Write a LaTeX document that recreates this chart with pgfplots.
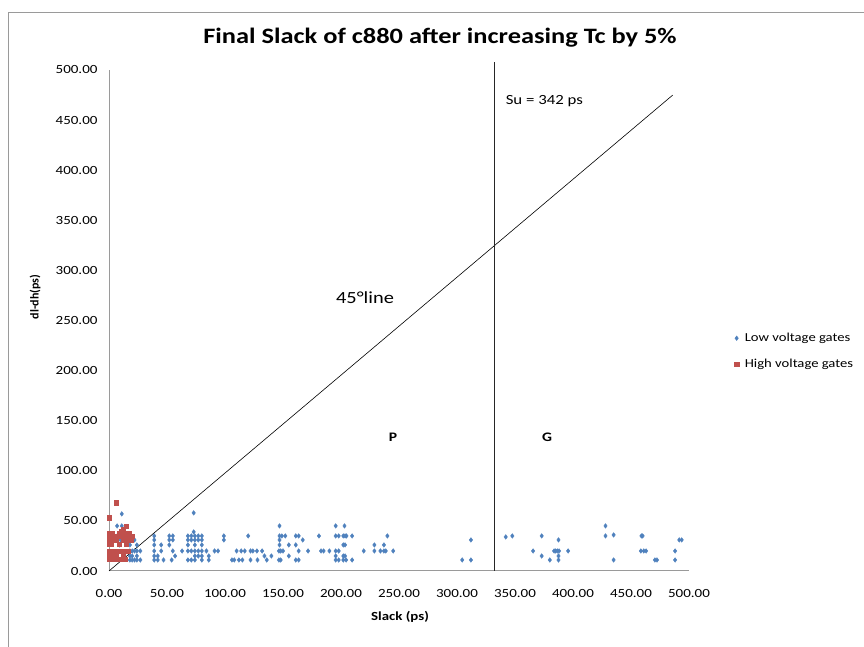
\documentclass[border=0pt]{standalone}
\usepackage{fontspec}
\setmainfont{Carlito}[FakeStretch=1.2]
\newfontfamily\plainfont{Carlito}
\usepackage{pgfplots}
\pgfplotsset{compat=1.18}
\definecolor{lowblue}{HTML}{4F81BD}
\definecolor{highred}{HTML}{C0504D}
\definecolor{axgray}{HTML}{9A9A9A}

\begin{document}
\begin{tikzpicture}[x=1pt,y=1pt]
\useasboundingbox (0,0) rectangle (864,647);
\draw[axgray, line width=0.8pt] (8,0) -- (8,635) -- (864,635);

\begin{axis}[
    at={(109pt,76pt)}, anchor=south west,
    width=580pt, height=501pt, scale only axis,
    xmin=0, xmax=500, ymin=0, ymax=500,
    axis x line*=bottom, axis y line*=left,
    axis line style={axgray, line width=1pt, -},
    xtick={0,50,...,500}, ytick={0,50,...,500},
    major tick length=0pt,
    /pgf/number format/.cd, fixed, fixed zerofill, precision=2, 1000 sep={},
        assume math mode=true,
    /pgfplots/.cd,
    ticklabel style={font=\fontsize{12.5}{14}\selectfont},
    xticklabel style={yshift=-15pt},
    yticklabel style={xshift=-8pt},
    clip=false,
    legend style={at={(axis description cs:1.078,0.479)}, anchor=north west,
        draw=none, fill=none, font=\fontsize{12.2}{14}\selectfont,
        row sep=12pt, inner sep=0pt,
        /tikz/every odd column/.append style={column sep=4pt}},
    legend cell align=left,
    legend image code/.code={\draw[mark repeat=2,mark phase=2,#1]
        plot coordinates {(0pt,0pt) (3pt,0pt) (6pt,0pt)};},
]
% Low voltage gates
\addplot[only marks, mark=diamond*, mark size=2.3pt, draw=lowblue, fill=lowblue] coordinates {
(11,57) (7,45) (11,45) (7,35) (12,35) (10,31) (9,26)
(18,26) (18,20) (18,15) (18,11) (20,20) (20,15) (20,11) (22,31) (22,20) (22,11)
(24,26) (24,20) (24,15) (24,11) (27,20) (27,11)
(39,35) (39,31) (39,26) (39,20) (39,15) (39,11) (42,15) (42,11) (45,26) (45,20)
(47,11) (52,35) (52,31) (52,26) (54,11) (55,35) (55,31) (55,20) (57,15) (63,20)
(68,35) (68,31) (68,26) (68,20) (68,11) (71,35) (71,31) (71,20) (71,11)
(73,39) (73,58) (74,35) (74,31) (74,26) (74,20) (74,15) (74,11)
(77,35) (77,31) (77,20) (77,15) (80,35) (80,31) (80,26) (80,20) (80,15) (80,11)
(84,20) (86,15) (86,11)
(91,20) (94,20) (99,35) (99,31) (106,11) (108,11) (110,20) (112,11) (114,20)
(115,11) (117,20) (120,35) (122,11) (122,20) (124,20)
(127.5,20) (132,20) (128,11) (134,15) (136,11) (140,15)
(147,45) (147,35) (149,35) (152,35) (147,31) (147,26) (146.5,20) (148,20) (150,20)
(146.5,11) (148,11) (155,26) (155,15)
(161,35) (163.5,35) (161,26) (163.5,20) (161,11) (163.5,11) (167,31) (171.6,20)
(181,35) (182.8,20) (185,20) (190,20)
(195.4,45) (203,45) (195.4,35) (198,35) (202,35) (203.5,35) (204.7,35) (202,26)
(203.5,26) (195.4,20) (198,20) (195.4,15) (202,15) (203.5,15) (195.4,11) (198,11)
(202,11) (204.4,11) (209.6,35) (209.6,11)
(219.6,20) (228.8,26) (228.8,20) (234,20) (237,20) (238.6,20) (237,26) (240,35)
(245,20)
(304.5,11) (312,11) (312,31) (342,34) (347.7,35) (365.6,20) (373,35) (373,15)
(380,11) (383.7,20) (385,20) (386.5,20) (388,20) (387.5,31) (387.5,15) (387.5,11)
(395.8,20) (428,45) (428,35) (435,36) (435,11) (459,35) (460,35) (458.5,20)
(461,20) (463,20) (470.6,11) (472.4,11) (488,20) (488,11) (491.6,31) (493.7,31)
};
\addlegendentry{Low voltage gates}

% High voltage gates
\addplot[only marks, mark=square*, mark size=2.2pt, draw=highred, fill=highred] coordinates {
(6,68) (0,53) (15,45) (12,42) (11,40)
(0,38) (3,38) (9,38) (14,38) (17,38)
(0,35) (2,35) (5,35) (8,35) (11,35) (14,35) (17,35) (20,35)
(0,31) (3,31) (6,31) (12,31) (16,31) (19,31)
(0,27) (2,27) (9,27) (15,27)
(0,20) (2,20) (4,20) (6,20) (8,20) (10,20) (12,20) (14,20) (16,20)
(0,16) (3,16) (6,16) (12,16)
(0,12) (2,12) (5,12) (8,12) (11,12) (14,12)
};
\addlegendentry{High voltage gates}

% 45 degree line and Su line
\addplot[black, line width=0.6pt, forget plot] coordinates {(0,0) (486,475)};
\addplot[black!85, line width=1.1pt, forget plot] coordinates {(332,0) (332,508)};

\node[anchor=west, font=\fontsize{14}{16}\selectfont] at (axis cs:339,469) {Su = 342 ps};
\node[font=\fontsize{17}{20}\selectfont] at (axis cs:220.7,273) {45°line};
\node[font=\bfseries\fontsize{13}{15}\selectfont] at (axis cs:244.8,133) {P};
\node[font=\bfseries\fontsize{13}{15}\selectfont] at (axis cs:377.6,133) {G};
\end{axis}

\node[font=\bfseries\fontsize{22}{26}\selectfont] at (440,609)
    {Final Slack of c880 after increasing Tc by 5\%};
\node[font=\bfseries\fontsize{12.4}{14}\selectfont] at (400,30) {Slack (ps)};
\node[rotate=90, font=\plainfont\bfseries\fontsize{12}{14}\selectfont] at (35,350) {dl-dh(ps)};
\end{tikzpicture}
\end{document}
